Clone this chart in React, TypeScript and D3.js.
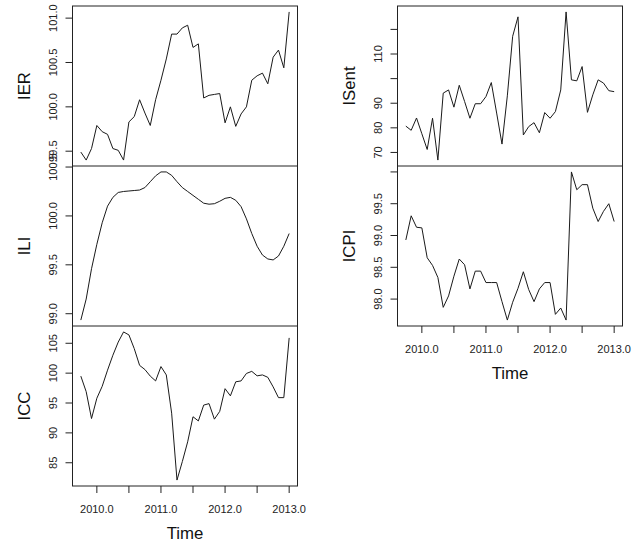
import React from "react";
import * as d3 from "d3";

// Monthly series starting October 2009 (2009.75), 40 observations
const startYear = 2009.75;
const frequency = 12;

const IER = [
  99.49, 99.40, 99.53, 99.79, 99.72, 99.69, 99.53, 99.51, 99.40, 99.83,
  99.89, 100.08, 99.93, 99.79, 100.08, 100.30, 100.54, 100.82, 100.82, 100.89,
  100.92, 100.67, 100.71, 100.10, 100.13, 100.14, 100.15, 99.82, 100.00, 99.78,
  99.92, 100.00, 100.30, 100.35, 100.38, 100.26, 100.56, 100.64, 100.44, 101.07,
];

const ILI = [
  98.935, 99.15, 99.46, 99.71, 99.93, 100.10, 100.19, 100.24, 100.25, 100.255,
  100.26, 100.265, 100.29, 100.35, 100.41, 100.45, 100.45, 100.415, 100.35, 100.29,
  100.25, 100.21, 100.17, 100.13, 100.12, 100.125, 100.15, 100.18, 100.19, 100.16,
  100.095, 99.97, 99.82, 99.69, 99.60, 99.56, 99.55, 99.59, 99.69, 99.82,
];

const ICC = [
  99.5, 96.9, 92.4, 95.8, 97.8, 100.5, 103.0, 105.2, 106.9, 106.4,
  104.1, 101.3, 100.6, 99.5, 98.7, 101.1, 99.7, 93.3, 82.1, 85.2,
  88.5, 92.7, 92.0, 94.65, 94.9, 92.3, 93.6, 97.4, 96.2, 98.55,
  98.7, 99.95, 100.3, 99.55, 99.7, 99.3, 97.7, 95.9, 95.9, 105.9,
];

const ISent = [
  80.7, 79.0, 84.0, 77.6, 71.2, 83.9, 66.9, 94.1, 95.4, 88.4,
  97.3, 90.7, 83.9, 89.8, 89.8, 92.7, 98.4, 86.0, 73.4, 93.0,
  117.2, 125.1, 77.1, 80.5, 82.1, 78.0, 86.2, 83.9, 86.6, 95.4,
  127.1, 99.5, 99.1, 104.9, 86.3, 93.4, 99.5, 98.2, 95.1, 94.7,
];

const ICPI = [
  98.93, 99.31, 99.13, 99.12, 98.65, 98.53, 98.34, 97.87, 98.05, 98.36,
  98.63, 98.54, 98.16, 98.44, 98.44, 98.26, 98.26, 98.26, 97.96, 97.67,
  97.95, 98.17, 98.43, 98.15, 97.96, 98.16, 98.26, 98.26, 97.76, 97.86,
  97.67, 100.0, 99.72, 99.80, 99.80, 99.43, 99.22, 99.38, 99.50, 99.22,
];

// Axis ticks; an empty label leaves the tick mark unlabelled
const IERTicks = [99.5, 100.0, 100.5, 101.0];
const IERLabels = ["99.5", "100.0", "100.5", "101.0"];
const ILITicks = [99.0, 99.5, 100.0, 100.5];
const ILILabels = ["99.0", "99.5", "100.0", "100.5"];
const ICCTicks = [85, 90, 95, 100, 105];
const ICCLabels = ["85", "90", "95", "100", "105"];
const ISentTicks = [70, 80, 90, 100, 110, 120];
const ISentLabels = ["70", "80", "90", "", "110", ""];
const ICPITicks = [98.0, 98.5, 99.0, 99.5, 100.0];
const ICPILabels = ["98.0", "98.5", "99.0", "99.5", ""];

const timeTicks = [2010, 2010.5, 2011, 2011.5, 2012, 2012.5, 2013];
const timeLabels = ["2010.0", "", "2011.0", "", "2012.0", "", "2013.0"];

type Panel = { name: string; values: number[]; ticks: number[]; labels: string[] };

const leftPanels: Panel[] = [
  { name: "IER", values: IER, ticks: IERTicks, labels: IERLabels },
  { name: "ILI", values: ILI, ticks: ILITicks, labels: ILILabels },
  { name: "ICC", values: ICC, ticks: ICCTicks, labels: ICCLabels },
];
const rightPanels: Panel[] = [
  { name: "ISent", values: ISent, ticks: ISentTicks, labels: ISentLabels },
  { name: "ICPI", values: ICPI, ticks: ICPITicks, labels: ICPILabels },
];

const FONT = "'Liberation Sans', Arial, Helvetica, sans-serif";
const W = 639;
const H = 544;
const PANEL_H = 160;
const TOP = 6;

// R-style range with 4% padding on either side
function padded(ext: [number, number]): [number, number] {
  const d = (ext[1] - ext[0]) * 0.04;
  return [ext[0] - d, ext[1] + d];
}

function Column({ panels, x0, x1 }: { panels: Panel[]; x0: number; x1: number }) {
  const n = panels[0].values.length;
  const times = d3.range(n).map((i) => startYear + i / frequency);
  const x = d3.scaleLinear().domain(padded([times[0], times[n - 1]])).range([x0, x1]);
  const bottom = TOP + PANEL_H * panels.length;

  return (
    <g>
      {panels.map((p, k) => {
        const top = TOP + PANEL_H * k;
        const y = d3
          .scaleLinear()
          .domain(padded(d3.extent(p.values) as [number, number]))
          .range([top + PANEL_H, top]);
        const line = d3
          .line<number>()
          .x((_, i) => x(times[i]))
          .y((v) => y(v));
        return (
          <g key={p.name}>
            <path d={line(p.values) ?? ""} fill="none" stroke="#1a1a1a" strokeWidth={1} />
            {p.ticks.map((t, j) => (
              <g key={t}>
                <line x1={x0 - 7} x2={x0} y1={y(t)} y2={y(t)} stroke="#222" strokeWidth={1} />
                {p.labels[j] !== "" && (
                  <text
                    transform={`translate(${x0 - 15.3},${y(t)}) rotate(-90)`}
                    textAnchor="middle"
                    fontSize={11}
                    fontFamily={FONT}
                    fill="#222"
                  >
                    {p.labels[j]}
                  </text>
                )}
              </g>
            ))}
            <text
              transform={`translate(${x0 - 43},${top + PANEL_H / 2}) rotate(-90)`}
              textAnchor="middle"
              fontSize={16.8}
              fontFamily={FONT}
              fill="#111"
            >
              {p.name}
            </text>
            {k > 0 && (
              <line x1={x0} x2={x1} y1={top} y2={top} stroke="#222" strokeWidth={1} />
            )}
          </g>
        );
      })}
      <rect x={x0} y={TOP} width={x1 - x0} height={bottom - TOP} fill="none" stroke="#222" strokeWidth={1} />
      {timeTicks.map((t, j) => (
        <g key={t}>
          <line x1={x(t)} x2={x(t)} y1={bottom} y2={bottom + 7} stroke="#222" strokeWidth={1} />
          {timeLabels[j] !== "" && (
            <text x={x(t)} y={bottom + 26.6} textAnchor="middle" fontSize={11} fontFamily={FONT} fill="#222">
              {timeLabels[j]}
            </text>
          )}
        </g>
      ))}
      <text x={(x0 + x1) / 2} y={bottom + 52.6} textAnchor="middle" fontSize={16.8} fontFamily={FONT} fill="#111">
        Time
      </text>
    </g>
  );
}

export default function App() {
  return (
    <svg
      width={W}
      height={H}
      viewBox={`0 0 ${W} ${H}`}
      style={{ position: "absolute", left: 0, top: 0, background: "#fff" }}
    >
      <rect width={W} height={H} fill="#fff" />
      <Column panels={leftPanels} x0={72.5} x1={297.5} />
      <Column panels={rightPanels} x0={397.5} x1={622.5} />
    </svg>
  );
}
